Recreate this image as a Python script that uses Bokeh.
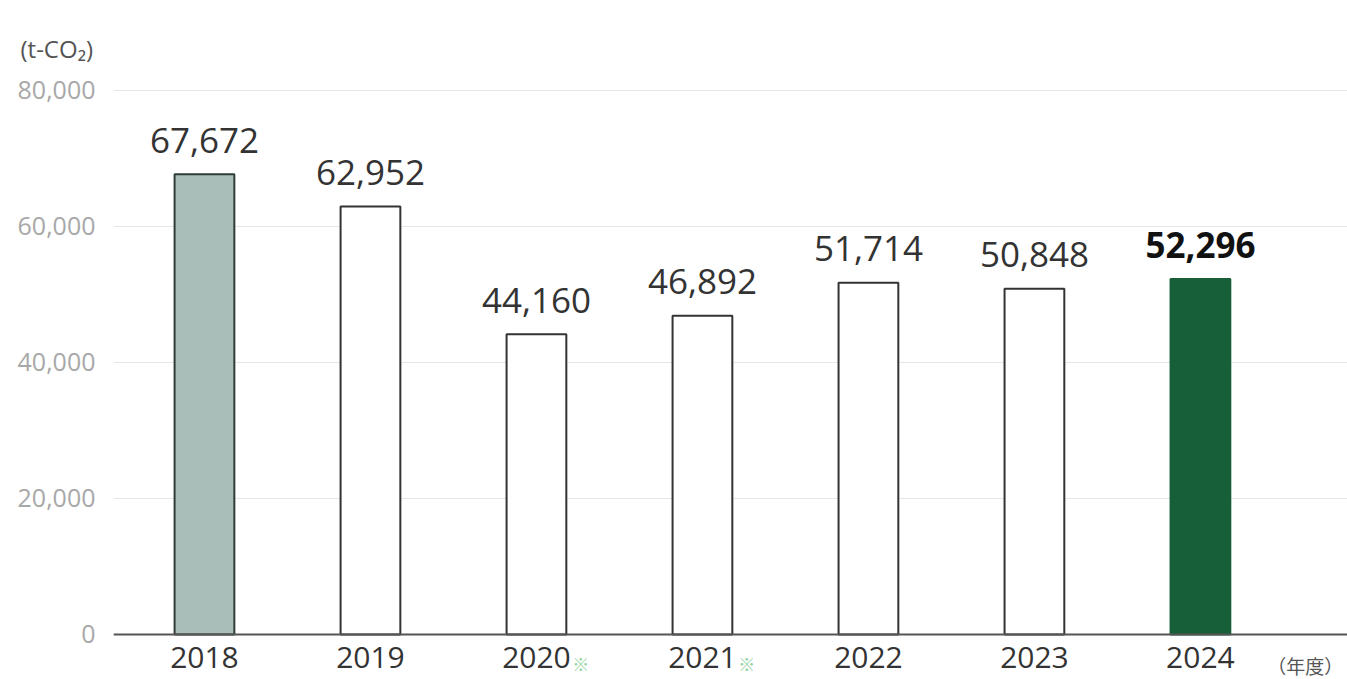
from bokeh.plotting import figure
from bokeh.models import Range1d, FixedTicker, NumeralTickFormatter, ColumnDataSource
from bokeh.core.properties import value
from bokeh.embed import file_html
from bokeh.resources import INLINE

years = [2018, 2019, 2020, 2021, 2022, 2023, 2024]
emissions = [67672, 62952, 44160, 46892, 51714, 50848, 52296]
value_labels = ["67,672", "62,952", "44,160", "46,892", "51,714", "50,848", "52,296"]
tick_labels = ["2018", "2019", "2020", "2021", "2022", "2023", "2024"]
note_years = [2020, 2021]
y_ticks = [0, 20000, 40000, 60000, 80000]
unit_label = "(t-CO₂)"
year_unit = "（年度）"

fills = ["#a9bdb9", "#ffffff", "#ffffff", "#ffffff", "#ffffff", "#ffffff", "#175f38"]
lines = ["#2f3d3a", "#333333", "#333333", "#333333", "#333333", "#333333", "#175f38"]
text_colors = ["#333333"] * 6 + ["#111111"]
font_styles = ["normal"] * 6 + ["bold"]

FONT = "Open Sans"

# frame reaches the bottom edge so the notes below the axis are not clipped
p = figure(width=1347, height=679, output_backend="svg", toolbar_location=None,
           x_range=Range1d(2017.452, 2024.886), y_range=Range1d(-6618, 82941),
           min_border_left=113, min_border_right=0, min_border_top=70, min_border_bottom=0)
p.outline_line_color = None
p.background_fill_color = "white"
p.border_fill_color = "white"

# unit label as a left-aligned title shifted over the y-axis labels
p.title.text = unit_label
p.title.align = "left"
p.title.offset = -93
p.title.text_font = FONT
p.title.text_font_size = "24px"
p.title.text_font_style = "normal"
p.title.text_color = "#555555"
p.title.standoff = 11

src = ColumnDataSource(dict(x=years, top=emissions, fill=fills, line=lines,
                            lab=value_labels, tc=text_colors, fs=font_styles))

p.vbar(x="x", top="top", bottom=0, width=0.36, source=src,
       fill_color="fill", line_color="line", line_width=2)

p.text(x="x", y="top", text="lab", source=src, text_align="center",
       text_baseline="alphabetic", y_offset=-34, text_font=value(FONT),
       text_font_size="35px", text_color="tc", text_font_style="fs")

# x axis fixed at y = 0
p.xaxis.fixed_location = 0
p.xaxis.ticker = FixedTicker(ticks=years)
p.xaxis.major_label_overrides = {y: t for y, t in zip(years, tick_labels)}
p.xaxis.major_tick_line_color = None
p.xaxis.minor_tick_line_color = None
p.xaxis.axis_line_color = "#555555"
p.xaxis.axis_line_width = 2
p.xaxis.major_label_text_font = FONT
p.xaxis.major_label_text_font_size = "30px"
p.xaxis.major_label_text_color = "#333333"
p.xaxis.major_label_standoff = 7

p.yaxis.ticker = FixedTicker(ticks=y_ticks)
p.yaxis.formatter = NumeralTickFormatter(format="0,0")
p.yaxis.axis_line_color = None
p.yaxis.major_tick_line_color = None
p.yaxis.minor_tick_line_color = None
p.yaxis.major_label_text_font = FONT
p.yaxis.major_label_text_font_size = "25px"
p.yaxis.major_label_text_color = "#a8a8a8"
p.yaxis.major_label_standoff = 12

p.xgrid.grid_line_color = None
p.ygrid.grid_line_color = "#e6e6e6"
p.ygrid.grid_line_width = 1

# year unit and notes below the axis
p.text(x=[2024.861], y=[-4600], text=[year_unit], text_baseline="middle",
       text_align="right", text_font=value("Noto Sans CJK JP"), text_font_size="19px",
       text_color="#555555")
p.text(x=[ny + 0.215 for ny in note_years], y=[-4300] * len(note_years),
       text=["※"] * len(note_years), text_baseline="middle", text_align="left",
       text_font=value("Noto Sans CJK JP"), text_font_size="17px",
       text_color="#8fd3a0")

open("out.html", "w").write(file_html(p, INLINE))
